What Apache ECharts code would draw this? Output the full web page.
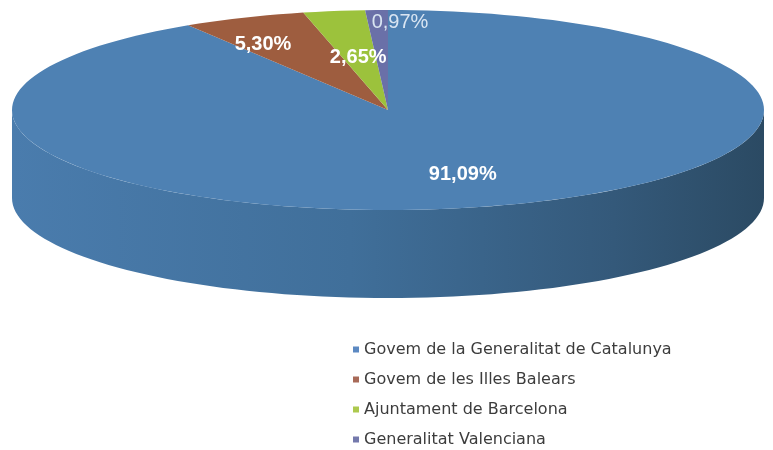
<!DOCTYPE html>
<html>
<head>
<meta charset="utf-8">
<script src="https://cdn.jsdelivr.net/npm/echarts@6/dist/echarts.min.js"></script>
<style>
  html, body { margin: 0; padding: 0; background: #fff; }
  #pieChart { width: 773px; height: 450px; }
</style>
</head>
<body>
<div id="pieChart"></div>
<script>
// datos del gráfico
var categories = ["Govem de la Generalitat de Catalunya", "Govem de les Illes Balears", "Ajuntament de Barcelona", "Generalitat Valenciana"];
var values = [91.09, 5.30, 2.65, 0.97];
var labelTexts = ["91,09%", "5,30%", "2,65%", "0,97%"];

// estilo
var faceColors = ["#4e81b3", "#9e5d3f", "#9cc23c", "#6a70a8"];
var legendColors = ["#5c89c2", "#a86a58", "#adc94e", "#7479ac"];
var labelNudge = [[2, -3], [-24, -1], [8, 17], [20, -18]];

// elipse del pastel 3D
var cx = 388, cy = 110, rx = 376, ry = 100, depth = 88;

var total = values.reduce(function (a, b) { return a + b; }, 0);
var starts = [];
var acc = 0;
values.forEach(function (v) { starts.push(acc / total * Math.PI * 2); acc += v; });

function pt(theta, dy) {
  // theta: sentido horario desde las 12
  return [cx + rx * Math.sin(theta), cy - ry * Math.cos(theta) + (dy || 0)];
}

function arc(a, b, dy) {
  var pts = [];
  var n = Math.max(2, Math.ceil((b - a) / (Math.PI * 2) * 180));
  for (var i = 0; i <= n; i++) pts.push(pt(a + (b - a) * i / n, dy));
  return pts;
}

function makeRender(idx) {
  return function (params, api) {
    var a = starts[idx];
    var b = a + api.value(0) / total * Math.PI * 2;
    var children = [];
    // pared frontal (solo la mitad delantera es visible)
    var s0 = Math.max(a, Math.PI / 2), s1 = Math.min(b, Math.PI * 1.5);
    if (s1 > s0) {
      var topEdge = arc(s0, s1, 0);
      var botEdge = arc(s0, s1, depth).reverse();
      children.push({
        type: "polygon",
        shape: { points: topEdge.concat(botEdge) },
        style: {
          fill: new echarts.graphic.LinearGradient(0, 0, 1, 0, [
            { offset: 0, color: "#4a7cad" },
            { offset: 0.45, color: "#406f9a" },
            { offset: 0.8, color: "#34597a" },
            { offset: 1, color: "#2b4a63" }
          ])
        }
      });
    }
    // cara superior
    var face = [[cx, cy]].concat(arc(a, b, 0));
    children.push({
      type: "polygon",
      shape: { points: face },
      style: { fill: faceColors[idx] }
    });
    // etiqueta
    var mid = (a + b) / 2;
    var lp = [cx + rx * 0.7 * Math.sin(mid) + labelNudge[idx][0], cy - ry * 0.7 * Math.cos(mid) + labelNudge[idx][1]];
    var light = idx === 3;
    children.push({
      type: "text",
      x: lp[0],
      y: lp[1],
      z2: 10,
      style: {
        text: labelTexts[idx],
        fill: light ? "#d9e5f2" : "#ffffff",
        font: (light ? "normal " : "bold ") + "20px 'Liberation Sans', Arial, sans-serif",
        align: "center",
        verticalAlign: "middle",
        textAlign: "center",
        textVerticalAlign: "middle"
      }
    });
    return { type: "group", children: children };
  };
}

var pieChart = echarts.init(document.getElementById("pieChart"));
var series = categories.map(function (name, i) {
  return {
    name: name,
    type: "custom",
    coordinateSystem: "none",
    silent: true,
    itemStyle: { color: legendColors[i] },
    renderItem: makeRender(i),
    data: [[values[i]]]
  };
});

pieChart.setOption({
  animation: false,
  legend: {
    data: categories,
    orient: "vertical",
    left: 348,
    top: 336,
    height: 140,
    icon: "rect",
    itemWidth: 6,
    itemHeight: 6,
    itemGap: 13,
    selectedMode: false,
    textStyle: {
      fontFamily: "'DejaVu Sans', sans-serif",
      fontSize: 16,
      color: "#3c3c3c",
      lineHeight: 17
    }
  },
  series: series
});
</script>
</body>
</html>
